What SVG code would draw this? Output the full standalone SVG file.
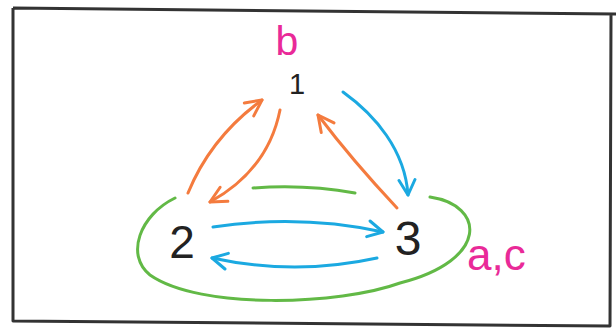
<svg xmlns="http://www.w3.org/2000/svg" width="616" height="331" viewBox="0 0 616 331">
  <style>
    .edge { fill: none; stroke-width: 3; stroke-linecap: round; stroke-linejoin: round; }
    .orange { stroke: #f47b3e; }
    .blue { stroke: #1ba9e1; }
    .green { stroke: #62b946; }
    .num { font-family: "Liberation Sans", Arial, sans-serif; fill: #222; text-anchor: middle; }
    .lbl { font-family: "Liberation Sans", Arial, sans-serif; fill: #e92a98; }
  </style>
  <defs>
    <marker id="arrO" markerUnits="userSpaceOnUse" viewBox="0 0 20 20" refX="18" refY="10" markerWidth="20" markerHeight="20" orient="auto">
      <path d="M2,2 L18,10 L2,18" fill="none" stroke="#f47b3e" stroke-width="3" stroke-linecap="round" stroke-linejoin="round"/>
    </marker>
    <marker id="arrB" markerUnits="userSpaceOnUse" viewBox="0 0 20 20" refX="18" refY="10" markerWidth="20" markerHeight="20" orient="auto">
      <path d="M3,2 L18,10 L3,18" fill="none" stroke="#1ba9e1" stroke-width="3" stroke-linecap="round" stroke-linejoin="round"/>
    </marker>
  </defs>
  <rect width="616" height="331" fill="#ffffff"/>
  <path id="frame" d="M13,8 L616,14 M611,14 L610,326 L13,321 L13,8" fill="none" stroke="#333" stroke-width="3" stroke-linejoin="round"/>

  <g id="connectors">
    <path class="edge orange" d="M188,193 Q211,137 262,100" marker-end="url(#arrO)"/>
    <path class="edge orange" d="M280,110 Q268,170 210,202" marker-end="url(#arrO)"/>
    <path class="edge orange" d="M397,208 Q352,160 318,115" marker-end="url(#arrO)"/>
    <path class="edge blue" d="M343,92 C375,115 405,150 408,195" marker-end="url(#arrB)"/>
    <path class="edge blue" d="M213,227 Q300,214 383,232" marker-end="url(#arrB)"/>
    <path class="edge blue" d="M377,258 Q295,276 212,258" marker-end="url(#arrB)"/>
    <path class="edge green" d="M253,188 Q305,184 355,193"/>
    <path class="edge green" d="M430,197 C485,205 490,260 400,283 C340,305 200,310 150,275 C125,255 140,215 175,198"/>
  </g>

  <g id="node1">
    <text class="num" x="297" y="94" font-size="29">1</text>
    <text class="lbl" x="287" y="55" font-size="41" text-anchor="middle">b</text>
  </g>
  <g id="node2">
    <text class="num" x="182" y="258" font-size="46">2</text>
  </g>
  <g id="node3">
    <text class="num" x="408" y="255" font-size="48">3</text>
    <text class="lbl" x="467" y="270" font-size="44">a,c</text>
  </g>
</svg>
